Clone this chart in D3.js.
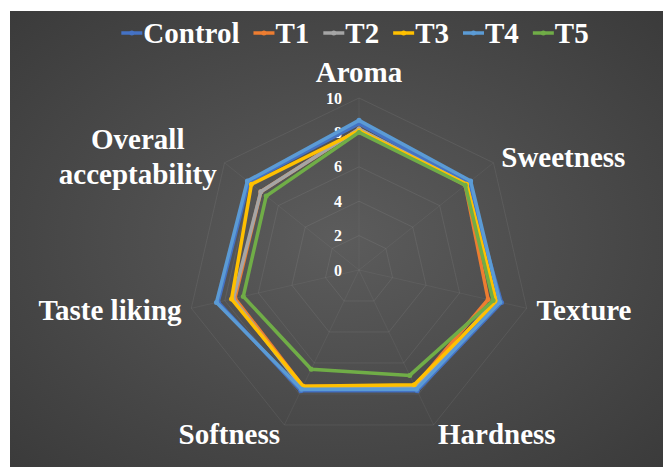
<!DOCTYPE html>
<html>
<head>
<meta charset="utf-8">
<script src="https://cdn.jsdelivr.net/npm/d3@7"></script>
<style>
  html, body { margin: 0; padding: 0; background: #ffffff; }
  svg { display: block; }
</style>
</head>
<body>
<svg id="chart" width="666" height="474"></svg>
<script>
// Sensory attributes (radar axes, clockwise from the top)
const attributes = ["Aroma", "Sweetness", "Texture", "Hardness", "Softness", "Taste liking", "Overall acceptability"];

// Mean scores per formulation, in attribute order
const control = [8.5, 8.1, 8.5, 7.8, 7.8, 8.4, 8.2];
const t1      = [8.2, 7.9, 7.7, 7.5, 7.5, 7.4, 7.3];
const t2      = [8.2, 8.0, 8.1, 7.6, 7.6, 7.5, 7.3];
const t3      = [8.1, 8.0, 8.2, 7.4, 7.5, 7.6, 8.0];
const t4      = [8.7, 8.3, 8.4, 7.7, 7.7, 8.5, 8.3];
const t5      = [8.0, 7.9, 8.0, 6.8, 6.4, 6.9, 6.9];

const seriesNames = ["Control", "T1", "T2", "T3", "T4", "T5"];
const seriesValues = [control, t1, t2, t3, t4, t5];
const seriesColors = ["#4472C4", "#ED7D31", "#A5A5A5", "#FFC000", "#5B9BD5", "#70AD47"];

// Radial axis ticks
const radialTicks = [0, 2, 4, 6, 8, 10];

const svg = d3.select("#chart");
const W = 666, H = 474;
const panel = { x: 10, y: 11, w: 653, h: 456 };
const cx = 359, cy = 270, R = 172;
const serif = "'Liberation Serif', 'Times New Roman', serif";

// Dark panel with a soft radial gradient
const defs = svg.append("defs");
const grad = defs.append("radialGradient").attr("id", "bg")
  .attr("cx", "50%").attr("cy", "50%").attr("r", "70%");
grad.append("stop").attr("offset", "0%").attr("stop-color", "#5c5c5c");
grad.append("stop").attr("offset", "100%").attr("stop-color", "#3b3b3b");
svg.append("rect")
  .attr("x", panel.x).attr("y", panel.y)
  .attr("width", panel.w).attr("height", panel.h)
  .attr("fill", "url(#bg)");

const rScale = d3.scaleLinear().domain([0, 10]).range([0, R]);
const angle = d3.scalePoint().domain(attributes).range([0, 2 * Math.PI * (attributes.length - 1) / attributes.length]);

const pt = (attr, v) => {
  const a = angle(attr), r = rScale(v);
  return [cx + r * Math.sin(a), cy - r * Math.cos(a)];
};

// Grid rings and spokes (very faint)
const grid = svg.append("g");
radialTicks.filter(t => t > 0).forEach(t => {
  grid.append("polygon")
    .attr("points", attributes.map(a => pt(a, t).join(",")).join(" "))
    .attr("fill", "none")
    .attr("stroke", "rgba(255,255,255,0.07)")
    .attr("stroke-width", 1);
});
attributes.forEach(a => {
  const [x, y] = pt(a, 10);
  grid.append("line")
    .attr("x1", cx).attr("y1", cy).attr("x2", x).attr("y2", y)
    .attr("stroke", "rgba(255,255,255,0.05)")
    .attr("stroke-width", 1);
});

// Radial tick labels, left of the vertical spoke
svg.append("g").selectAll("text")
  .data(radialTicks)
  .join("text")
  .attr("x", cx - 17)
  .attr("y", d => cy - rScale(d))
  .attr("text-anchor", "end")
  .attr("dominant-baseline", "central")
  .attr("fill", "#ffffff")
  .attr("font-family", serif)
  .attr("font-weight", "bold")
  .attr("font-size", 16)
  .text(d => d);

// Series outlines
const line = d3.line().curve(d3.curveLinearClosed);
const series = svg.append("g");
seriesValues.forEach((vals, i) => {
  const pts = attributes.map((a, j) => pt(a, vals[j]));
  series.append("path")
    .attr("d", line(pts))
    .attr("fill", "none")
    .attr("stroke", seriesColors[i])
    .attr("stroke-width", 3.5)
    .attr("stroke-linejoin", "miter");
  series.selectAll(null)
    .data(pts)
    .join("circle")
    .attr("cx", d => d[0]).attr("cy", d => d[1])
    .attr("r", 2.5)
    .attr("fill", seriesColors[i]);
});

// Category labels outside the outer ring
const labelG = svg.append("g")
  .attr("fill", "#ffffff")
  .attr("font-family", serif)
  .attr("font-weight", "bold")
  .attr("font-size", 29);
attributes.forEach(a => {
  const ang = angle(a);
  const sx = Math.sin(ang), sy = -Math.cos(ang);
  const off = Math.abs(sx) < 0.01 ? 26 : 10;
  const x = cx + (R + off) * sx;
  const y = cy + (R + off) * sy;
  const anchor = Math.abs(sx) < 0.01 ? "middle" : (sx > 0 ? "start" : "end");
  const words = a === "Overall acceptability" ? ["Overall", "acceptability"] : [a];
  const t = labelG.append("text")
    .attr("text-anchor", anchor)
    .attr("dominant-baseline", "central");
  if (words.length === 1) {
    t.attr("x", x).attr("y", y).text(a);
  } else {
    // two lines, centred over each other, block right-aligned to the anchor
    const lh = 35;
    const spans = words.map((w, k) => t.append("tspan")
      .attr("y", y + (k - (words.length - 1) / 2) * lh)
      .text(w));
    const widths = spans.map(s => s.node().getComputedTextLength());
    const maxW = Math.max(...widths);
    t.attr("text-anchor", "middle");
    spans.forEach(s => s.attr("x", x - maxW / 2));
  }
});

// Legend across the top
const legend = svg.append("g")
  .attr("font-family", serif)
  .attr("font-weight", "bold")
  .attr("font-size", 29)
  .attr("fill", "#ffffff");
const legendY = 33;
const items = seriesNames.map((name, i) => {
  const g = legend.append("g");
  g.append("line")
    .attr("x1", 0).attr("x2", 21)
    .attr("y1", 0).attr("y2", 0)
    .attr("stroke", seriesColors[i])
    .attr("stroke-width", 3.5);
  g.append("circle").attr("cx", 10.5).attr("cy", 0).attr("r", 2.5).attr("fill", seriesColors[i]);
  const txt = g.append("text")
    .attr("x", 22)
    .attr("dominant-baseline", "central")
    .text(name);
  return { g, w: 22 + txt.node().getComputedTextLength() };
});
const gap = 14;
const totalW = d3.sum(items, d => d.w) + gap * (items.length - 1);
let lx = 355 - totalW / 2;
items.forEach(it => {
  it.g.attr("transform", `translate(${lx},${legendY})`);
  lx += it.w + gap;
});
</script>
</body>
</html>
